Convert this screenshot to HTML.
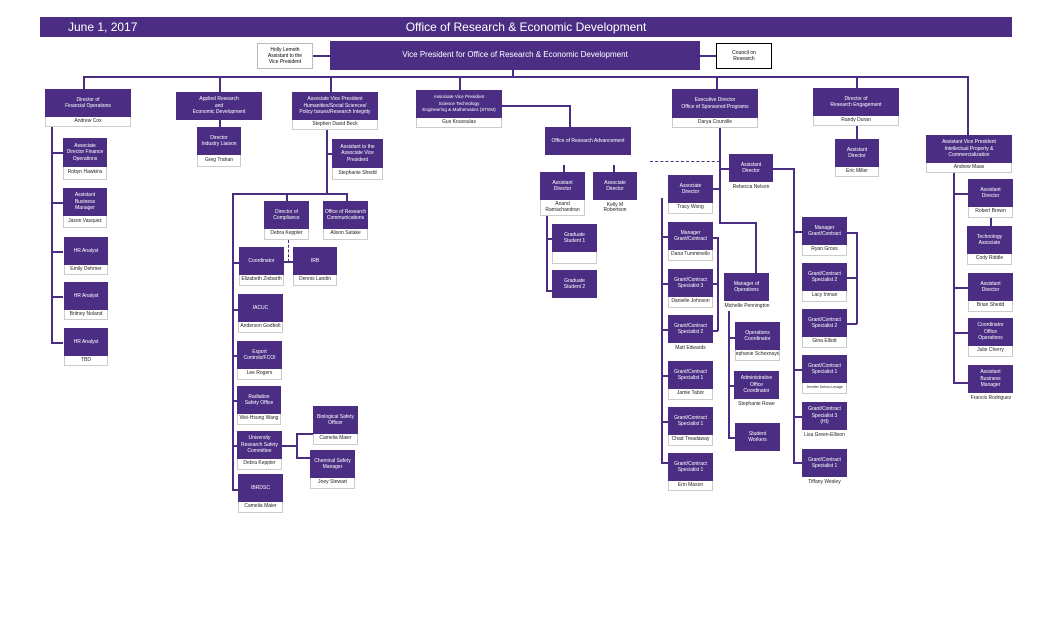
<!DOCTYPE html>
<html><head><meta charset="utf-8"><style>
*{margin:0;padding:0;box-sizing:border-box}
body{width:1050px;height:638px;background:#fff;position:relative;overflow:hidden;font-family:"Liberation Sans",sans-serif}
.b{position:absolute;background:#4b2e83;color:#fff;font-size:5px;line-height:6.5px;display:flex;align-items:center;justify-content:center;text-align:center;padding:1px}
.n{position:absolute;background:#fff;color:#222;font-size:5px;line-height:5.5px;display:flex;align-items:center;justify-content:center;text-align:center;border:1px solid #ccc;border-top:none;white-space:nowrap;overflow:hidden}
.h{position:absolute;height:1.5px;background:#4b2e83}
.v{position:absolute;width:1.5px;background:#4b2e83}
</style></head><body>
<div style="position:absolute;left:40px;top:17px;width:972px;height:20px;background:#4b2e83;color:#fff;font-size:12px;line-height:20px">
<span style="position:absolute;left:28px">June 1, 2017</span>
<span style="position:absolute;left:0;width:972px;text-align:center">Office of Research &amp; Economic Development</span></div>

<div style="position:absolute;left:257px;top:43px;width:56px;height:26px;border:1px solid #bbb;font-size:5px;line-height:6px;text-align:center;padding-top:3px">Holly Lemoth<br>Assistant to the<br>Vice President</div>
<div class="h" style="left:313px;top:55px;width:17px"></div>
<div class="b" style="left:330px;top:41px;width:370px;height:29px;font-size:8px">Vice President for Office of Research &amp; Economic Development</div>
<div class="h" style="left:700px;top:55px;width:16px"></div>
<div style="position:absolute;left:716px;top:43px;width:56px;height:26px;border:1px solid #000;font-size:5px;line-height:6px;text-align:center;padding-top:6px">Council on<br>Research</div>

<div class="v" style="left:512px;top:70px;height:6px"></div>
<div class="h" style="left:83px;top:76px;width:885px"></div>
<div class="v" style="left:83px;top:76px;height:13px"></div>
<div class="v" style="left:219px;top:76px;height:16px"></div>
<div class="v" style="left:330px;top:76px;height:16px"></div>
<div class="v" style="left:459px;top:76px;height:14px"></div>
<div class="v" style="left:716px;top:76px;height:13px"></div>
<div class="v" style="left:856px;top:76px;height:12px"></div>
<div class="v" style="left:967px;top:76px;height:59px"></div>

<!-- Financial -->
<div class="b" style="left:45px;top:89px;width:86px;height:28px">Director of<br>Financial Operations</div>
<div class="n" style="left:45px;top:117px;width:86px;height:10px">Andrew Cox</div>
<div class="v" style="left:51px;top:127px;height:216px"></div>
<div class="h" style="left:51px;top:152px;width:12px"></div>
<div class="h" style="left:51px;top:202px;width:12px"></div>
<div class="h" style="left:51px;top:251px;width:12px"></div>
<div class="h" style="left:51px;top:296px;width:12px"></div>
<div class="h" style="left:51px;top:342px;width:12px"></div>
<div class="b" style="left:63px;top:138px;width:44px;height:29px">Associate<br>Director Finance<br>Operations</div>
<div class="n" style="left:63px;top:167px;width:44px;height:13px">Robyn Hawkins</div>
<div class="b" style="left:63px;top:188px;width:44px;height:28px">Assistant<br>Business<br>Manager</div>
<div class="n" style="left:63px;top:216px;width:44px;height:12px">Jason Vasquez</div>
<div class="b" style="left:64px;top:237px;width:44px;height:28px">HR Analyst</div>
<div class="n" style="left:64px;top:265px;width:44px;height:10px">Emily Dehmer</div>
<div class="b" style="left:64px;top:282px;width:44px;height:28px">HR Analyst</div>
<div class="n" style="left:64px;top:310px;width:44px;height:10px">Britney Noland</div>
<div class="b" style="left:64px;top:328px;width:44px;height:28px">HR Analyst</div>
<div class="n" style="left:64px;top:356px;width:44px;height:10px">TBD</div>

<!-- Applied -->
<div class="b" style="left:176px;top:92px;width:86px;height:28px">Applied Research<br>and<br>Economic Development</div>
<div class="v" style="left:219px;top:120px;height:7px"></div>
<div class="b" style="left:197px;top:127px;width:44px;height:28px">Director<br>Industry Liaison</div>
<div class="n" style="left:197px;top:155px;width:44px;height:12px">Greg Trahan</div>

<!-- Humanities -->
<div class="b" style="left:292px;top:92px;width:86px;height:28px">Associate Vice President<br>Humanities/Social Sciences/<br>Policy Issues/Research Integrity</div>
<div class="n" style="left:292px;top:120px;width:86px;height:10px">Stephen David Beck</div>
<div class="v" style="left:326px;top:130px;height:63px"></div>
<div class="h" style="left:326px;top:153px;width:6px"></div>
<div class="b" style="left:332px;top:139px;width:51px;height:29px">Assistant to the<br>Associate Vice<br>President</div>
<div class="n" style="left:332px;top:168px;width:51px;height:12px">Stephanie Shedd</div>
<div class="h" style="left:232px;top:193px;width:116px"></div>
<div class="v" style="left:286px;top:193px;height:8px"></div>
<div class="v" style="left:346px;top:193px;height:8px"></div>
<div class="v" style="left:232px;top:193px;height:297px"></div>
<div class="b" style="left:264px;top:201px;width:45px;height:28px">Director of<br>Compliance</div>
<div class="n" style="left:264px;top:229px;width:45px;height:11px">Debra Keppler</div>
<div class="b" style="left:323px;top:201px;width:45px;height:28px">Office of Research<br>Communications</div>
<div class="n" style="left:323px;top:229px;width:45px;height:11px">Alison Satake</div>
<div style="position:absolute;left:288px;top:240px;width:0;height:22px;border-left:1.5px dashed #4b2e83"></div>
<div class="h" style="left:284px;top:261px;width:9px"></div>
<div class="h" style="left:232px;top:262px;width:7px"></div>
<div class="b" style="left:239px;top:247px;width:45px;height:28px">Coordinator</div>
<div class="n" style="left:239px;top:275px;width:45px;height:11px">Elizabeth Ziebarth</div>
<div class="b" style="left:293px;top:247px;width:44px;height:28px">IRB</div>
<div class="n" style="left:293px;top:275px;width:44px;height:11px">Dennis Landin</div>
<div class="h" style="left:232px;top:309px;width:6px"></div>
<div class="b" style="left:238px;top:294px;width:45px;height:28px">IACUC</div>
<div class="n" style="left:238px;top:322px;width:45px;height:11px">Anderson Godbolt</div>
<div class="h" style="left:232px;top:355px;width:5px"></div>
<div class="b" style="left:237px;top:341px;width:45px;height:28px">Export<br>Controls/FCOI</div>
<div class="n" style="left:237px;top:369px;width:45px;height:11px">Lee Rogers</div>
<div class="h" style="left:232px;top:400px;width:5px"></div>
<div class="b" style="left:237px;top:386px;width:44px;height:28px">Radiation<br>Safety Office</div>
<div class="n" style="left:237px;top:414px;width:44px;height:11px">Wei-Hsung Wang</div>
<div class="h" style="left:232px;top:445px;width:5px"></div>
<div class="b" style="left:237px;top:431px;width:45px;height:28px">University<br>Research Safety<br>Committee</div>
<div class="n" style="left:237px;top:459px;width:45px;height:11px">Debra Keppler</div>
<div class="h" style="left:282px;top:445px;width:15px"></div>
<div class="v" style="left:296px;top:433px;height:25px"></div>
<div class="h" style="left:296px;top:433px;width:17px"></div>
<div class="h" style="left:296px;top:457px;width:14px"></div>
<div class="b" style="left:313px;top:406px;width:45px;height:28px">Biological Safety<br>Officer</div>
<div class="n" style="left:313px;top:434px;width:45px;height:11px">Camelia Maier</div>
<div class="b" style="left:310px;top:450px;width:45px;height:28px">Chemical Safety<br>Manager</div>
<div class="n" style="left:310px;top:478px;width:45px;height:11px">Joey Stewart</div>
<div class="h" style="left:232px;top:489px;width:6px"></div>
<div class="b" style="left:238px;top:474px;width:45px;height:28px">IBRDSC</div>
<div class="n" style="left:238px;top:502px;width:45px;height:11px">Camelia Maier</div>

<!-- STEM -->
<div class="b" style="left:416px;top:90px;width:86px;height:28px;font-size:4.6px">Associate Vice President<br>Science Technology<br>Engineering &amp; Mathematics (STEM)</div>
<div class="n" style="left:416px;top:118px;width:86px;height:10px">Gus Kousoulas</div>
<div class="h" style="left:502px;top:105px;width:68px"></div>
<div class="v" style="left:569px;top:105px;height:22px"></div>
<div class="b" style="left:545px;top:127px;width:86px;height:28px">Office of Research Advancement</div>
<div class="v" style="left:563px;top:165px;height:7px"></div>
<div class="v" style="left:613px;top:165px;height:7px"></div>
<div class="b" style="left:540px;top:172px;width:45px;height:28px">Assistant<br>Director</div>
<div class="n" style="left:540px;top:200px;width:45px;height:16px;white-space:normal">Anand<br>Ramachandran</div>
<div class="b" style="left:593px;top:172px;width:44px;height:28px">Associate<br>Director</div>
<div class="n" style="left:593px;top:200px;width:44px;height:16px;border:none">Kelly M<br>Robertson</div>
<div class="v" style="left:546px;top:216px;height:75px"></div>
<div class="h" style="left:546px;top:238px;width:6px"></div>
<div class="h" style="left:546px;top:290px;width:6px"></div>
<div class="b" style="left:552px;top:224px;width:45px;height:28px">Graduate<br>Student 1</div>
<div class="n" style="left:552px;top:252px;width:45px;height:12px"></div>
<div class="b" style="left:552px;top:270px;width:45px;height:28px">Graduate<br>Student 2</div>

<!-- OSP -->
<div class="b" style="left:672px;top:89px;width:86px;height:29px">Executive Director<br>Office of Sponsored Programs</div>
<div class="n" style="left:672px;top:118px;width:86px;height:10px">Darya Courville</div>
<div style="position:absolute;left:650px;top:161px;width:70px;border-top:1.5px dashed #4b2e83"></div>
<div class="v" style="left:719px;top:128px;height:95px"></div>
<div class="h" style="left:719px;top:168px;width:10px"></div>
<div class="h" style="left:713px;top:188px;width:7px"></div>
<div class="h" style="left:719px;top:222px;width:37px"></div>
<div class="v" style="left:755px;top:222px;height:51px"></div>
<div class="b" style="left:729px;top:154px;width:44px;height:28px">Assistant<br>Director</div>
<div class="n" style="left:729px;top:182px;width:44px;height:11px;border:none">Rebecca Nelson</div>
<div class="b" style="left:668px;top:175px;width:45px;height:28px">Associate<br>Director</div>
<div class="n" style="left:668px;top:203px;width:45px;height:11px">Tracy Wong</div>
<div class="v" style="left:661px;top:198px;height:265px"></div>
<div class="h" style="left:661px;top:236px;width:7px"></div>
<div class="h" style="left:661px;top:283px;width:7px"></div>
<div class="h" style="left:661px;top:329px;width:7px"></div>
<div class="h" style="left:661px;top:375px;width:7px"></div>
<div class="h" style="left:661px;top:421px;width:7px"></div>
<div class="h" style="left:661px;top:462px;width:7px"></div>
<div class="v" style="left:717px;top:237px;height:94px"></div>
<div class="h" style="left:713px;top:237px;width:5px"></div>
<div class="h" style="left:713px;top:283px;width:5px"></div>
<div class="h" style="left:713px;top:330px;width:5px"></div>
<div class="b" style="left:668px;top:222px;width:45px;height:28px">Manager<br>Grant/Contract</div>
<div class="n" style="left:668px;top:250px;width:45px;height:11px">Dana Tumminello</div>
<div class="b" style="left:668px;top:269px;width:45px;height:28px">Grant/Contract<br>Specialist 3</div>
<div class="n" style="left:668px;top:297px;width:45px;height:11px">Danielle Johnson</div>
<div class="b" style="left:668px;top:315px;width:45px;height:28px">Grant/Contract<br>Specialist 2</div>
<div class="n" style="left:668px;top:343px;width:45px;height:11px;border:none">Matt Edwards</div>
<div class="b" style="left:668px;top:361px;width:45px;height:28px">Grant/Contract<br>Specialist 1</div>
<div class="n" style="left:668px;top:389px;width:45px;height:11px">Jamie Tabor</div>
<div class="b" style="left:668px;top:407px;width:45px;height:28px">Grant/Contract<br>Specialist 1</div>
<div class="n" style="left:668px;top:435px;width:45px;height:11px">Chad Treadaway</div>
<div class="b" style="left:668px;top:453px;width:45px;height:28px">Grant/Contract<br>Specialist 1</div>
<div class="n" style="left:668px;top:481px;width:45px;height:10px">Erin Mason</div>
<div class="b" style="left:724px;top:273px;width:45px;height:28px">Manager of<br>Operations</div>
<div class="n" style="left:722px;top:301px;width:50px;height:11px;border:none">Michelle Pennington</div>
<div class="v" style="left:728px;top:311px;height:127px"></div>
<div class="h" style="left:728px;top:337px;width:7px"></div>
<div class="h" style="left:728px;top:385px;width:6px"></div>
<div class="h" style="left:728px;top:437px;width:7px"></div>
<div class="b" style="left:735px;top:322px;width:45px;height:28px">Operations<br>Coordinator</div>
<div class="n" style="left:735px;top:350px;width:45px;height:11px">Stephanie Schexnayder</div>
<div class="b" style="left:734px;top:371px;width:45px;height:28px">Administrative<br>Office<br>Coordinator</div>
<div class="n" style="left:734px;top:399px;width:45px;height:11px;border:none">Stephanie Rowe</div>
<div class="b" style="left:735px;top:423px;width:45px;height:28px">Student<br>Workers</div>
<div class="h" style="left:773px;top:168px;width:21px"></div>
<div class="v" style="left:793px;top:168px;height:295px"></div>
<div class="h" style="left:793px;top:231px;width:9px"></div>
<div class="h" style="left:793px;top:369px;width:9px"></div>
<div class="h" style="left:793px;top:416px;width:9px"></div>
<div class="h" style="left:793px;top:462px;width:9px"></div>
<div class="v" style="left:856px;top:232px;height:92px"></div>
<div class="h" style="left:847px;top:232px;width:10px"></div>
<div class="h" style="left:847px;top:277px;width:10px"></div>
<div class="h" style="left:847px;top:323px;width:10px"></div>
<div class="b" style="left:802px;top:217px;width:45px;height:28px">Manager<br>Grant/Contract</div>
<div class="n" style="left:802px;top:245px;width:45px;height:11px">Ryan Gross</div>
<div class="b" style="left:802px;top:263px;width:45px;height:28px">Grant/Contract<br>Specialist 2</div>
<div class="n" style="left:802px;top:291px;width:45px;height:11px">Lacy Inman</div>
<div class="b" style="left:802px;top:309px;width:45px;height:28px">Grant/Contract<br>Specialist 2</div>
<div class="n" style="left:802px;top:337px;width:45px;height:11px">Gina Elliott</div>
<div class="b" style="left:802px;top:355px;width:45px;height:28px">Grant/Contract<br>Specialist 1</div>
<div class="n" style="left:802px;top:383px;width:45px;height:11px;font-size:3.5px">Jennifer Duhon-Lesage</div>
<div class="b" style="left:802px;top:402px;width:45px;height:28px">Grant/Contract<br>Specialist 3<br>(HI)</div>
<div class="n" style="left:802px;top:430px;width:45px;height:11px;border:none">Lisa Green-Ellison</div>
<div class="b" style="left:802px;top:449px;width:45px;height:28px">Grant/Contract<br>Specialist 1</div>
<div class="n" style="left:802px;top:477px;width:45px;height:11px;border:none">Tiffany Wesley</div>

<!-- Engagement -->
<div class="b" style="left:813px;top:88px;width:86px;height:28px">Director of<br>Research Engagement</div>
<div class="n" style="left:813px;top:116px;width:86px;height:10px">Randy Duran</div>
<div class="v" style="left:856px;top:126px;height:13px"></div>
<div class="b" style="left:835px;top:139px;width:44px;height:28px">Assistant<br>Director</div>
<div class="n" style="left:835px;top:167px;width:44px;height:10px">Eric Miller</div>

<!-- IP -->
<div class="b" style="left:926px;top:135px;width:86px;height:28px">Assistant Vice President<br>Intellectual Property &amp;<br>Commercialization</div>
<div class="n" style="left:926px;top:163px;width:86px;height:10px">Andrew Maas</div>
<div class="v" style="left:953px;top:173px;height:210px"></div>
<div class="h" style="left:953px;top:193px;width:15px"></div>
<div class="h" style="left:953px;top:287px;width:15px"></div>
<div class="h" style="left:953px;top:332px;width:15px"></div>
<div class="h" style="left:953px;top:382px;width:15px"></div>
<div class="v" style="left:990px;top:218px;height:8px"></div>
<div class="b" style="left:968px;top:179px;width:45px;height:28px">Assistant<br>Director</div>
<div class="n" style="left:968px;top:207px;width:45px;height:11px">Robert Brown</div>
<div class="b" style="left:967px;top:226px;width:45px;height:28px">Technology<br>Associate</div>
<div class="n" style="left:967px;top:254px;width:45px;height:11px">Cody Riddle</div>
<div class="b" style="left:968px;top:273px;width:45px;height:28px">Assistant<br>Director</div>
<div class="n" style="left:968px;top:301px;width:45px;height:11px">Brian Shedd</div>
<div class="b" style="left:968px;top:318px;width:45px;height:28px">Coordinator<br>Office<br>Operations</div>
<div class="n" style="left:968px;top:346px;width:45px;height:11px">Julie Cherry</div>
<div class="b" style="left:968px;top:365px;width:45px;height:28px">Assistant<br>Business<br>Manager</div>
<div class="n" style="left:966px;top:393px;width:50px;height:11px;border:none">Francis Rodriguez</div>
</body></html>
